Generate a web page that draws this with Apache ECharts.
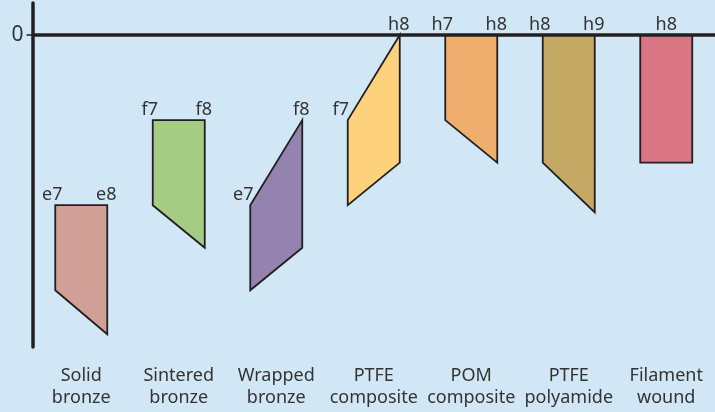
<!DOCTYPE html>
<html>
<head>
<meta charset="utf-8">
<script src="https://cdn.jsdelivr.net/npm/echarts@6/dist/echarts.min.js"></script>
<style>
  html, body { margin: 0; padding: 0; background: #d2e7f6; }
  #chart { width: 715px; height: 412px; }
</style>
</head>
<body>
<div id="chart"></div>
<script>
// tolerance zones, in grid steps below the zero line
const categories = ['Solid\nbronze', 'Sintered\nbronze', 'Wrapped\nbronze', 'PTFE\ncomposite', 'POM\ncomposite', 'PTFE\npolyamide', 'Filament\nwound']
const leftTop = [-6, -3, -6, -3, 0, 0, 0]
const leftBottom = [-9, -6, -9, -6, -3, -4.5, -4.5]
const rightTop = [-6, -3, -3, 0, 0, 0, 0]
const rightBottom = [-10.55, -7.5, -7.5, -4.5, -4.5, -6.25, -4.5]
const leftLabels = ['e7', 'f7', 'e7', 'f7', 'h7', 'h8', '']
const rightLabels = ['e8', 'f8', 'f8', 'h8', 'h8', 'h9', '']
const middleLabels = ['', '', '', '', '', '', 'h8']
const colors = ['#d09f95', '#a5cc83', '#9482af', '#fed27c', '#efad6e', '#c4a965', '#da7683']

const chart = echarts.init(document.getElementById('chart'))

const data = categories.map((c, i) => [i, leftTop[i], leftBottom[i], rightTop[i], rightBottom[i]])

const textStyle = (x, y, txt) => ({
  type: 'text',
  style: {
    x: x, y: y, text: txt,
    fill: '#333', font: '18px "Noto Sans", sans-serif',
    textAlign: 'center', textVerticalAlign: 'middle'
  }
})

function renderItem(params, api) {
  const i = api.value(0)
  const half = 26
  const c = api.coord([i, 0])[0]
  const xl = c - half, xr = c + half
  const yLT = api.coord([i, api.value(1)])[1]
  const yLB = api.coord([i, api.value(2)])[1]
  const yRT = api.coord([i, api.value(3)])[1]
  const yRB = api.coord([i, api.value(4)])[1]
  const children = [{
    type: 'polygon',
    shape: { points: [[xl, yLT], [xr, yRT], [xr, yRB], [xl, yLB]] },
    style: { fill: colors[i], stroke: '#231f20', lineWidth: 1.8 }
  }]
  const slanted = api.value(1) < api.value(3)
  if (leftLabels[i]) children.push(textStyle(xl + (slanted ? -7 : -3), yLT - 10, leftLabels[i]))
  if (rightLabels[i]) children.push(textStyle(xr - 1, yRT - 10, rightLabels[i]))
  if (middleLabels[i]) children.push(textStyle(c, yLT - 10, middleLabels[i]))
  return { type: 'group', children: children }
}

const option = {
  backgroundColor: '#d2e7f6',
  animation: false,
  grid: { left: 32.5, right: 0, top: 3, bottom: 65 },
  xAxis: {
    type: 'category',
    data: categories,
    boundaryGap: true,
    axisLine: { show: false },
    axisTick: { show: false },
    axisLabel: {
      color: '#333', fontSize: 18, lineHeight: 22, margin: 18,
      fontFamily: '"Noto Sans", sans-serif', interval: 0
    }
  },
  yAxis: {
    type: 'value',
    min: -11,
    max: 1.13,
    interval: 1,
    axisLine: { show: true, lineStyle: { color: '#231f20', width: 3.5 } },
    axisTick: { show: true, customValues: [0], length: 6, lineStyle: { color: '#231f20', width: 1.5 } },
    axisLabel: {
      customValues: [0], color: '#333', fontSize: 21, margin: 9,
      fontFamily: '"Noto Sans", sans-serif', formatter: v => (v === 0 ? '0' : '')
    },
    splitLine: { show: true, lineStyle: { color: '#eef6fc', width: 1.5 } }
  },
  series: [{
    type: 'custom',
    renderItem: renderItem,
    data: data,
    encode: { x: 0, y: [1, 2, 3, 4] },
    markLine: {
      silent: true,
      symbol: 'none',
      label: { show: false },
      lineStyle: { color: '#231f20', width: 3.5, type: 'solid' },
      data: [{ yAxis: 0 }]
    }
  }]
}

chart.setOption(option)
</script>
</body>
</html>
